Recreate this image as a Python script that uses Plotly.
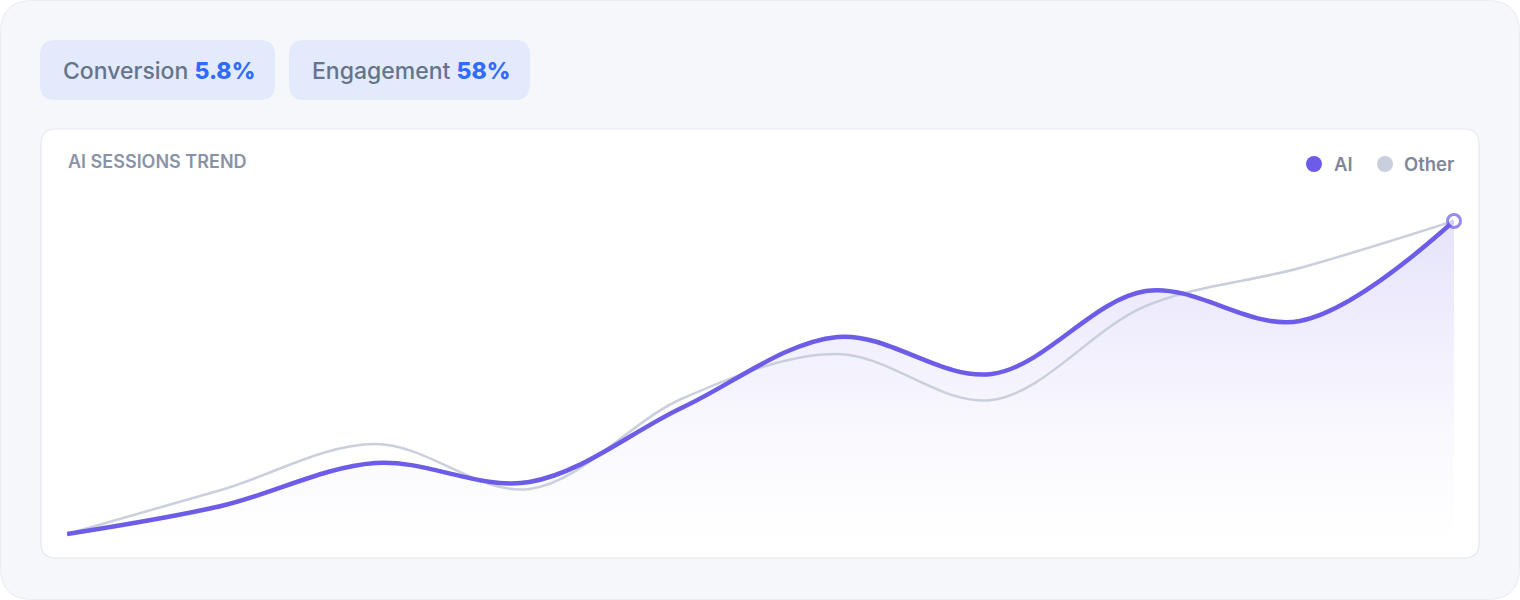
import plotly.graph_objects as go

# chart values
points = list(range(10))
ai_sessions = [10.0, 12.8, 17.1, 15.2, 22.7, 29.7, 26.0, 34.3, 31.3, 41.3]
other_sessions = [10.0, 14.4, 19.0, 14.5, 23.6, 28.0, 23.4, 32.8, 36.6, 41.3]

kpi_labels = ["Conversion", "Engagement"]
kpi_values = ["5.8%", "58%"]

W, H = 1520, 600
PURPLE = "#6c5ce7"
GREY_LINE = "#c9cfdc"


def px_x(x):
    return x / W


def px_y(y):
    return 1 - y / H


def round_rect(x0, y0, x1, y1, r):
    # rounded rectangle as svg path in paper coords
    pts = [
        "M {} {}".format(px_x(x0 + r), px_y(y0)),
        "L {} {}".format(px_x(x1 - r), px_y(y0)),
        "Q {} {} {} {}".format(px_x(x1), px_y(y0), px_x(x1), px_y(y0 + r)),
        "L {} {}".format(px_x(x1), px_y(y1 - r)),
        "Q {} {} {} {}".format(px_x(x1), px_y(y1), px_x(x1 - r), px_y(y1)),
        "L {} {}".format(px_x(x0 + r), px_y(y1)),
        "Q {} {} {} {}".format(px_x(x0), px_y(y1), px_x(x0), px_y(y1 - r)),
        "L {} {}".format(px_x(x0), px_y(y0 + r)),
        "Q {} {} {} {}".format(px_x(x0), px_y(y0), px_x(x0 + r), px_y(y0)),
        "Z",
    ]
    return " ".join(pts)


y_lo, y_hi = 8.9, 43.4

fig = go.Figure()

# soft area under the AI line
fig.add_trace(go.Scatter(
    x=points, y=ai_sessions,
    mode="lines",
    line=dict(width=0, shape="spline", smoothing=1),
    fill="tozeroy",
    fillgradient=dict(
        type="vertical",
        start=y_lo, stop=max(ai_sessions),
        colorscale=[[0, "rgba(108,92,231,0.0)"],
                    [0.35, "rgba(108,92,231,0.04)"],
                    [1, "rgba(108,92,231,0.17)"]],
    ),
    hoverinfo="skip",
    showlegend=False,
))

fig.add_trace(go.Scatter(
    x=points, y=other_sessions,
    mode="lines",
    name="Other",
    line=dict(color=GREY_LINE, width=2.5, shape="spline", smoothing=1),
    showlegend=False,
))

fig.add_trace(go.Scatter(
    x=points, y=ai_sessions,
    mode="lines+markers",
    name="AI",
    line=dict(color=PURPLE, width=4.5, shape="spline", smoothing=1),
    marker=dict(
        size=[0] * (len(points) - 1) + [13],
        color="white",
        line=dict(color=PURPLE, width=3),
    ),
    cliponaxis=False,
    showlegend=False,
))

shapes = [
    dict(type="path", path=round_rect(0.5, 0.5, 1519.5, 599.5, 32),
         fillcolor="#f5f7fb", line=dict(color="#e8ebf2", width=1), layer="below"),
    dict(type="path", path=round_rect(40, 40, 275, 100, 15),
         fillcolor="#e3eafb", line=dict(width=0), layer="below"),
    dict(type="path", path=round_rect(289, 40, 530, 100, 15),
         fillcolor="#e3eafb", line=dict(width=0), layer="below"),
    dict(type="path", path=round_rect(41, 129, 1479, 558, 15),
         fillcolor="white", line=dict(color="#e4e8f0", width=1.2), layer="below"),
]

# legend dots
for cx, col in [(1314, PURPLE), (1385, GREY_LINE)]:
    shapes.append(dict(type="circle", xref="paper", yref="paper",
                       x0=px_x(cx - 8), x1=px_x(cx + 8),
                       y0=px_y(164 + 8), y1=px_y(164 - 8),
                       fillcolor=col, line=dict(width=0)))

for s in shapes:
    s.setdefault("xref", "paper")
    s.setdefault("yref", "paper")

annotations = []
for lbl, val, x0 in zip(kpi_labels, kpi_values, [61, 310]):
    annotations.append(dict(
        x=px_x(x0), y=px_y(71), xref="paper", yref="paper",
        xanchor="left", yanchor="middle", showarrow=False,
        text="{} <span style='color:#2f6bff;font-weight:800'>{}</span>".format(lbl, val),
        font=dict(family="Inter", size=23, color="#64748b", weight=500),
    ))

annotations.append(dict(
    x=px_x(66), y=px_y(161), xref="paper", yref="paper",
    xanchor="left", yanchor="middle", showarrow=False,
    text="AI SESSIONS TREND",
    font=dict(family="Inter", size=18, color="#8a93a6", weight=600),
))
for txt, x0 in [("AI", 1332), ("Other", 1402)]:
    annotations.append(dict(
        x=px_x(x0), y=px_y(164), xref="paper", yref="paper",
        xanchor="left", yanchor="middle", showarrow=False,
        text=txt,
        font=dict(family="Inter", size=18.5, color="#7e879a", weight=600),
    ))

fig.update_layout(
    width=W, height=H,
    margin=dict(l=0, r=0, t=0, b=0),
    paper_bgcolor="white",
    plot_bgcolor="rgba(0,0,0,0)",
    shapes=shapes,
    annotations=annotations,
    xaxis=dict(domain=[px_x(67), px_x(1454)], range=[0, 9],
               visible=False, fixedrange=True),
    yaxis=dict(domain=[px_y(545), px_y(200)], range=[y_lo, y_hi],
               visible=False, fixedrange=True),
    hovermode=False,
)

fig.write_html("out.html", config={"displayModeBar": False},
               post_script="document.body.style.margin='0';")
